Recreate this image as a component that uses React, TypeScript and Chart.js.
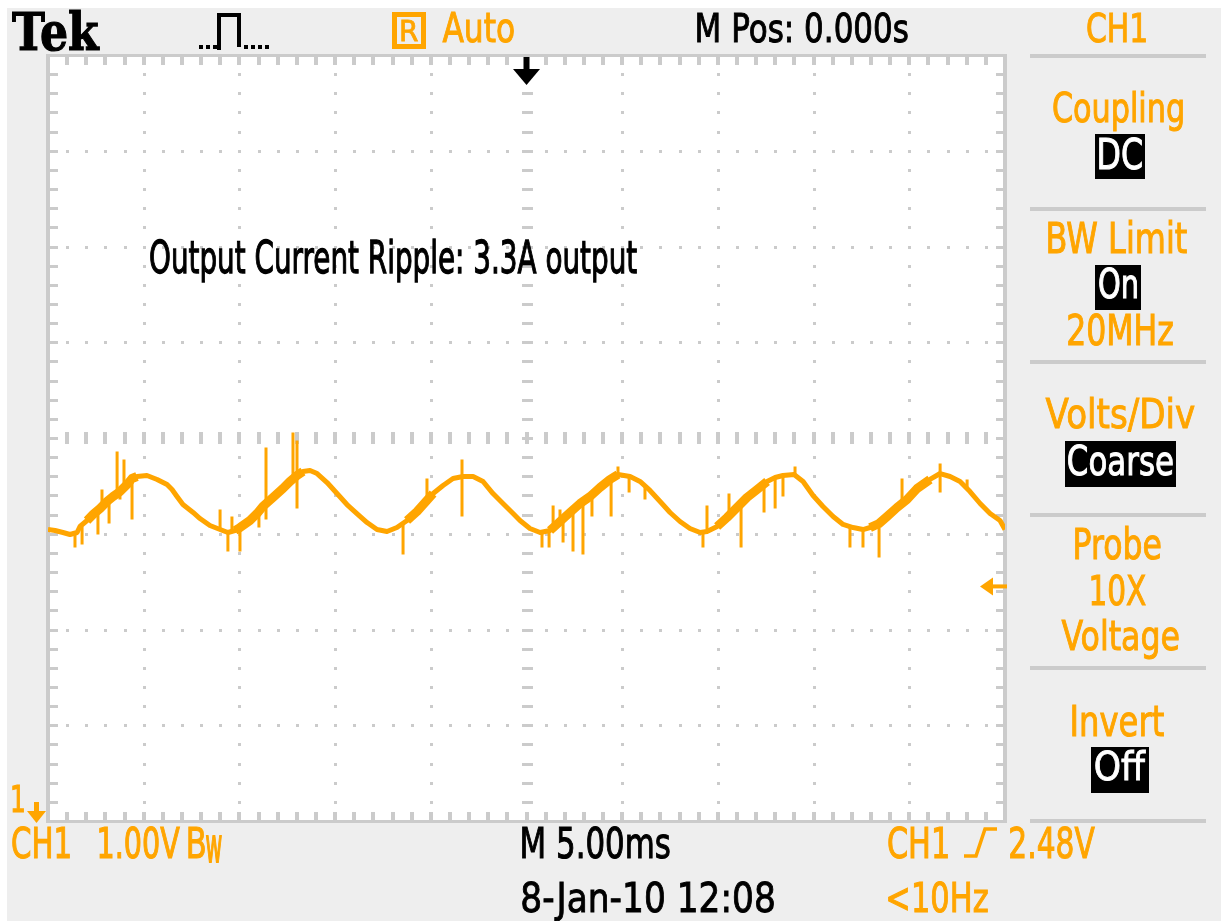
import React, { useEffect, useRef } from "react";
import { Chart, registerables } from "chart.js";

Chart.register(...registerables);

// ---------------- data ----------------
// horizontal: 5.00 ms/div, M Pos 0.000 s  -> -25 .. +25 ms
// vertical: CH1 1.00 V/div, values in divisions from the screen centre
const timeMs = [
  -25.0, -24.63, -24.22, -23.85, -23.48, -23.33, -22.96, -22.65, -22.28, -21.92,
  -21.6, -21.24, -20.87, -20.61, -20.35, -19.83, -19.3, -18.78, -18.52, -18.26,
  -17.95, -17.42, -17.06, -16.54, -16.01, -15.6, -15.23, -14.97, -14.45, -14.08,
  -13.77, -13.24, -12.72, -12.36, -11.99, -11.68, -11.31, -10.94, -10.42, -9.9,
  -9.38, -8.86, -8.33, -7.81, -7.29, -6.77, -6.24, -5.72, -5.3, -4.88,
  -4.36, -3.84, -3.32, -2.79, -2.27, -1.75, -1.23, -0.7, -0.34, 0.18,
  0.71, 1.23, 1.75, 2.27, 2.8, 3.32, 3.84, 4.36, 4.78, 5.41,
  5.93, 6.45, 6.98, 7.5, 8.02, 8.54, 9.07, 9.43, 9.96, 10.48,
  11.0, 11.52, 12.05, 12.57, 12.99, 13.4, 13.98, 14.45, 14.97, 15.49,
  16.02, 16.54, 17.06, 17.58, 17.95, 18.42, 18.84, 19.36, 19.88, 20.41,
  21.08, 21.61, 22.13, 22.65, 23.17, 23.7, 24.22, 24.74, 25.0,
];
const ch1Div = [
  -0.956, -0.966, -0.987, -1.008, -0.987, -0.924, -0.862, -0.799, -0.736, -0.663,
  -0.611, -0.559, -0.486, -0.423, -0.402, -0.392, -0.433, -0.486, -0.538, -0.611,
  -0.695, -0.778, -0.841, -0.914, -0.956, -0.987, -0.966, -0.935, -0.862, -0.789,
  -0.715, -0.621, -0.527, -0.454, -0.392, -0.35, -0.339, -0.371, -0.465, -0.58,
  -0.695, -0.789, -0.883, -0.956, -0.977, -0.935, -0.862, -0.768, -0.674, -0.58,
  -0.496, -0.423, -0.402, -0.402, -0.454, -0.58, -0.684, -0.789, -0.862, -0.945,
  -0.987, -0.966, -0.872, -0.778, -0.684, -0.611, -0.517, -0.433, -0.381, -0.402,
  -0.454, -0.548, -0.663, -0.778, -0.872, -0.945, -0.987, -0.977, -0.924, -0.83,
  -0.726, -0.621, -0.538, -0.454, -0.413, -0.392, -0.381, -0.454, -0.601, -0.715,
  -0.82, -0.903, -0.935, -0.956, -0.935, -0.893, -0.82, -0.726, -0.642, -0.527,
  -0.433, -0.371, -0.402, -0.454, -0.559, -0.684, -0.789, -0.862, -0.956,
];

// switching spikes: time, lower end, upper end
const spikeTimes = [
  -23.59, -23.22, -22.39, -22.18, -21.81, -21.39, -21.24, -21.03, -20.61, -16.01,
  -15.6, -15.39, -14.97, -13.98, -13.61, -12.2, -11.99, -6.45, -5.2, -3.37,
  0.81, 1.18, 1.39, 1.75, 1.91, 2.43, 2.95, 3.42, 4.42, 4.78,
  5.36, 6.19, 9.22, 9.43, 10.58, 11.21, 12.41, 12.99, 13.4, 14.03,
  16.9, 17.58, 18.42, 19.62, 21.61, 23.02,
];
const spikeLow = [
  -1.144, -1.112, -1.008, -0.715, -0.893, -0.59, -0.642, -0.52, -0.851, -0.956,
  -1.185, -0.97, -1.185, -0.935, -0.851, -0.43, -0.736, -1.217, -0.65, -0.82,
  -1.144, -1.144, -0.94, -0.872, -1.091, -1.185, -1.217, -0.82, -0.82, -0.381,
  -0.569, -0.642, -1.144, -0.977, -0.8, -1.144, -0.778, -0.736, -0.611, -0.39,
  -1.144, -1.144, -1.248, -0.69, -0.569, -0.53,
];
const spikeHigh = [
  -0.987, -0.924, -0.736, -0.538, -0.663, -0.141, -0.559, -0.225, -0.423, -0.747,
  -0.987, -0.82, -0.935, -0.77, -0.099, 0.057, -0.026, -0.9, -0.423, -0.225,
  -0.987, -0.966, -0.705, -0.747, -0.85, -0.75, -0.67, -0.59, -0.43, -0.298,
  -0.4, -0.5, -0.987, -0.705, -0.58, -0.68, -0.48, -0.413, -0.392, -0.298,
  -0.93, -0.956, -0.893, -0.423, -0.266, -0.433,
];
// time spans where the trace is thickened by noise (ms)
const noisyStart = [-23.0, -15.3, -6.3, 1.2, 9.9, 17.9];
const noisyEnd = [-20.3, -11.6, -4.8, 4.8, 12.6, 21.6];

const triggerLevelDiv = -1.55;

const X_MIN = -25, X_MAX = 25, X_DIV = 5;
const Y_MIN = -4, Y_MAX = 4, Y_DIV = 1;
const MINOR = 5;

// ---------------- styling ----------------
const W = 1221, H = 921;
const ORANGE = "#FFA500";
const GRID = "#CBCBCB";
const PANEL = "#EEEEEE";
const SANS = '"DejaVu Sans", "Liberation Sans", sans-serif';
const SERIF_BOLD = 'bold 100px "DejaVu Serif", "Liberation Serif", serif';

function fitText(
  ctx: CanvasRenderingContext2D,
  text: string,
  x0: number,
  x1: number,
  capTop: number,
  baseline: number,
  color: string,
  font: string = "100px " + SANS,
  extra: number = 0.8
) {
  ctx.save();
  ctx.font = font;
  ctx.textAlign = "left";
  ctx.textBaseline = "alphabetic";
  const cap = ctx.measureText("H").actualBoundingBoxAscent;
  const m = ctx.measureText(text);
  const inkW = m.actualBoundingBoxLeft + m.actualBoundingBoxRight;
  const sx = (x1 - x0 - extra) / inkW;
  const sy = (baseline - capTop) / cap;
  ctx.translate(x0 + extra / 2, baseline);
  ctx.scale(sx, sy);
  ctx.fillStyle = color;
  ctx.fillText(text, m.actualBoundingBoxLeft, 0);
  if (extra > 0) {
    ctx.strokeStyle = color;
    ctx.lineWidth = extra / sx;
    ctx.lineJoin = "miter";
    ctx.strokeText(text, m.actualBoundingBoxLeft, 0);
  }
  ctx.restore();
}

const pageBackground = {
  id: "pageBackground",
  beforeDraw(chart: any) {
    const ctx = chart.ctx as CanvasRenderingContext2D;
    ctx.save();
    ctx.fillStyle = "#FFFFFF";
    ctx.fillRect(0, 0, W, H);
    ctx.fillStyle = PANEL;
    ctx.fillRect(7, 8, W - 7, H - 8);
    ctx.restore();
  },
};

const graticule = {
  id: "graticule",
  beforeDatasetsDraw(chart: any) {
    const ctx = chart.ctx as CanvasRenderingContext2D;
    const a = chart.chartArea;
    const xs = chart.scales.x;
    const ys = chart.scales.y;
    const px = (v: number) => Math.round(xs.getPixelForValue(v));
    const py = (v: number) => Math.round(ys.getPixelForValue(v));
    const L = Math.round(a.left), R = Math.round(a.right);
    const T = Math.round(a.top), B = Math.round(a.bottom);
    ctx.save();
    ctx.fillStyle = "#FFFFFF";
    ctx.fillRect(L, T, R - L, B - T);
    ctx.fillStyle = GRID;
    const minorX: number[] = [];
    const minorY: number[] = [];
    const nx = ((X_MAX - X_MIN) / X_DIV) * MINOR;
    const ny = ((Y_MAX - Y_MIN) / Y_DIV) * MINOR;
    for (let k = 1; k < nx; k++) minorX.push(X_MIN + (k * X_DIV) / MINOR);
    for (let k = 1; k < ny; k++) minorY.push(Y_MIN + (k * Y_DIV) / MINOR);
    const majorX: number[] = [];
    const majorY: number[] = [];
    for (let k = 1; k < (X_MAX - X_MIN) / X_DIV; k++) majorX.push(X_MIN + k * X_DIV);
    for (let k = 1; k < (Y_MAX - Y_MIN) / Y_DIV; k++) majorY.push(Y_MIN + k * Y_DIV);
    // dotted major lines
    for (const mx of majorX) {
      if (Math.abs(mx) < 1e-9) continue;
      const x = px(mx);
      for (const my of minorY) ctx.fillRect(x - 1, py(my) - 1, 3, 3);
    }
    for (const my of majorY) {
      if (Math.abs(my) < 1e-9) continue;
      const y = py(my);
      for (const mx of minorX) ctx.fillRect(px(mx) - 1, y - 1, 3, 3);
    }
    // centre cross with ticks
    const cx = px(0), cy = py(0);
    for (const mx of minorX) ctx.fillRect(px(mx) - 2, cy - 6, 4, 12);
    for (const my of minorY) ctx.fillRect(cx - 5, py(my) - 1, 11, 3);
    // border ticks
    for (const mx of minorX) {
      ctx.fillRect(px(mx) - 2, T + 2, 4, 8);
      ctx.fillRect(px(mx) - 2, B - 9, 4, 8);
    }
    for (const my of minorY) {
      ctx.fillRect(L + 2, py(my) - 1, 8, 3);
      ctx.fillRect(R - 9, py(my) - 1, 8, 3);
    }
    // border
    ctx.fillRect(L - 2, T - 1, R - L + 4, 3);
    ctx.fillRect(L - 2, B - 1, R - L + 4, 3);
    ctx.fillRect(L - 2, T - 1, 4, B - T + 3);
    ctx.fillRect(R - 2, T - 1, 4, B - T + 3);
    ctx.restore();
  },
  afterDatasetsDraw(chart: any) {
    const ctx = chart.ctx as CanvasRenderingContext2D;
    const a = chart.chartArea;
    const xs = chart.scales.x;
    const ys = chart.scales.y;
    ctx.save();
    // trigger position marker (top, black)
    const cx = xs.getPixelForValue(0);
    const T = a.top;
    ctx.fillStyle = "#000";
    ctx.fillRect(cx - 3, T + 2, 6, 14);
    ctx.beginPath();
    ctx.moveTo(cx - 13.5, T + 14);
    ctx.lineTo(cx + 13.5, T + 14);
    ctx.lineTo(cx, T + 30);
    ctx.closePath();
    ctx.fill();
    // trigger level marker (right, orange)
    const ty = ys.getPixelForValue(triggerLevelDiv);
    const R = a.right;
    ctx.fillStyle = ORANGE;
    ctx.beginPath();
    ctx.moveTo(R - 25, ty);
    ctx.lineTo(R - 12, ty - 9);
    ctx.lineTo(R - 12, ty + 9);
    ctx.closePath();
    ctx.fill();
    ctx.fillRect(R - 13, ty - 2, 15, 4);
    // annotation text
    fitText(ctx, "Output Current Ripple: 3.3A output", 150, 637, 241, 273, "#000");
    ctx.restore();
  },
};

const screenText = {
  id: "screenText",
  afterDraw(chart: any) {
    const ctx = chart.ctx as CanvasRenderingContext2D;
    ctx.save();
    // ---- top bar ----
    fitText(ctx, "Tek", 12, 100, 12, 50, "#000", SERIF_BOLD, 1);
    // acquisition (sample) icon
    ctx.fillStyle = "#000";
    for (const x of [199, 206, 213]) ctx.fillRect(x, 45, 4, 4);
    ctx.fillRect(217, 13, 4, 37);
    ctx.fillRect(217, 13, 22, 4);
    ctx.fillRect(237, 13, 4, 34);
    for (const x of [244, 251, 258, 265]) ctx.fillRect(x, 45, 4, 4);
    // "R" run indicator box
    ctx.strokeStyle = ORANGE;
    ctx.lineWidth = 5;
    ctx.strokeRect(394.5, 14.5, 29, 32);
    fitText(ctx, "R", 401, 418, 20, 41, ORANGE);
    fitText(ctx, "Auto", 442, 514, 12, 42, ORANGE);
    fitText(ctx, "M Pos: 0.000s", 697, 908, 13, 42, "#000");
    fitText(ctx, "CH1", 1087, 1146, 13, 42, ORANGE);

    // ---- side menu ----
    ctx.fillStyle = GRID;
    for (const y of [54, 207, 360, 513, 666, 819]) ctx.fillRect(1030, y, 176, 4);
    fitText(ctx, "Coupling", 1053, 1183, 92, 122, ORANGE);
    ctx.fillStyle = "#000";
    ctx.fillRect(1095, 134, 50, 45);
    fitText(ctx, "DC", 1099, 1142, 138, 169, "#FFF");
    fitText(ctx, "BW Limit", 1048, 1187, 222, 253, ORANGE);
    ctx.fillStyle = "#000";
    ctx.fillRect(1095, 265, 46, 45);
    fitText(ctx, "On", 1099, 1137, 268, 298, "#FFF");
    fitText(ctx, "20MHz", 1068, 1173, 314, 345, ORANGE);
    fitText(ctx, "Volts/Div", 1045, 1195, 398, 428, ORANGE);
    ctx.fillStyle = "#000";
    ctx.fillRect(1065, 441, 111, 46);
    fitText(ctx, "Coarse", 1068, 1173, 445, 475, "#FFF");
    fitText(ctx, "Probe", 1075, 1161, 528, 559, ORANGE);
    fitText(ctx, "10X", 1091, 1146, 575, 605, ORANGE);
    fitText(ctx, "Voltage", 1061, 1179, 620, 650, ORANGE);
    fitText(ctx, "Invert", 1072, 1164, 705, 736, ORANGE);
    ctx.fillStyle = "#000";
    ctx.fillRect(1091, 747, 58, 46);
    fitText(ctx, "Off", 1095, 1146, 751, 780, "#FFF");

    // ---- ground marker ----
    fitText(ctx, "1", 12, 24, 785, 812, ORANGE);
    ctx.fillStyle = ORANGE;
    ctx.fillRect(34, 802, 5, 12);
    ctx.beginPath();
    ctx.moveTo(27, 811);
    ctx.lineTo(46, 811);
    ctx.lineTo(36.5, 823);
    ctx.closePath();
    ctx.fill();

    // ---- bottom readouts ----
    fitText(ctx, "CH1", 12, 70, 827, 858, ORANGE);
    fitText(ctx, "1.00V", 99, 180, 827, 858, ORANGE);
    fitText(ctx, "B", 188, 205, 827, 858, ORANGE);
    fitText(ctx, "w", 206, 222, 827, 862, ORANGE);
    fitText(ctx, "M 5.00ms", 522, 670, 827, 858, "#000");
    fitText(ctx, "CH1", 888, 948, 827, 858, ORANGE);
    ctx.strokeStyle = ORANGE;
    ctx.lineWidth = 3.5;
    ctx.beginPath();
    ctx.moveTo(964, 856);
    ctx.lineTo(976, 856);
    ctx.lineTo(985, 829);
    ctx.lineTo(997, 829);
    ctx.stroke();
    fitText(ctx, "2.48V", 1010, 1095, 827, 858, ORANGE);
    fitText(ctx, "8-Jan-10 12:08", 522, 774, 882, 912, "#000");
    fitText(ctx, "<10Hz", 888, 988, 882, 912, ORANGE);
    ctx.restore();
  },
};

export default function App() {
  const ref = useRef<HTMLCanvasElement>(null);
  useEffect(() => {
    document.body.style.margin = "0";
    document.body.style.overflow = "hidden";
    const canvas = ref.current;
    if (!canvas) return;

    const tracePoints = timeMs.map((t, i) => ({ x: t, y: ch1Div[i] }));
    const inNoisy = (t: number) =>
      noisyStart.some((s, k) => t >= s && t <= noisyEnd[k]);
    const bandPoints = timeMs.map((t, i) => ({ x: t, y: inNoisy(t) ? ch1Div[i] : null }));
    const spikePoints: { x: number; y: number | null }[] = [];
    spikeTimes.forEach((t, i) => {
      spikePoints.push({ x: t, y: spikeLow[i] });
      spikePoints.push({ x: t, y: spikeHigh[i] });
      spikePoints.push({ x: t, y: null });
    });

    const chart = new Chart(canvas, {
      type: "line",
      data: {
        datasets: [
          {
            label: "CH1",
            data: tracePoints as any,
            borderColor: ORANGE,
            borderWidth: 5,
            pointRadius: 0,
            tension: 0,
            borderJoinStyle: "round",
          },
          {
            label: "noise",
            data: bandPoints as any,
            borderColor: ORANGE,
            borderWidth: 9,
            pointRadius: 0,
            tension: 0,
            spanGaps: false,
            borderJoinStyle: "round",
          },
          {
            label: "spikes",
            data: spikePoints as any,
            borderColor: ORANGE,
            borderWidth: 3,
            pointRadius: 0,
            tension: 0,
            spanGaps: false,
            borderCapStyle: "butt",
          },
        ],
      },
      options: {
        animation: false,
        responsive: false,
        events: [],
        layout: { padding: { left: 48, top: 55, right: W - 1005, bottom: H - 821 } },
        scales: {
          x: { type: "linear", min: X_MIN, max: X_MAX, display: false },
          y: { type: "linear", min: Y_MIN, max: Y_MAX, display: false },
        },
        plugins: {
          legend: { display: false },
          tooltip: { enabled: false },
        },
      },
      plugins: [pageBackground, graticule, screenText],
    });
    return () => chart.destroy();
  }, []);

  return (
    <canvas
      ref={ref}
      width={W}
      height={H}
      style={{ display: "block", width: W, height: H }}
    />
  );
}
